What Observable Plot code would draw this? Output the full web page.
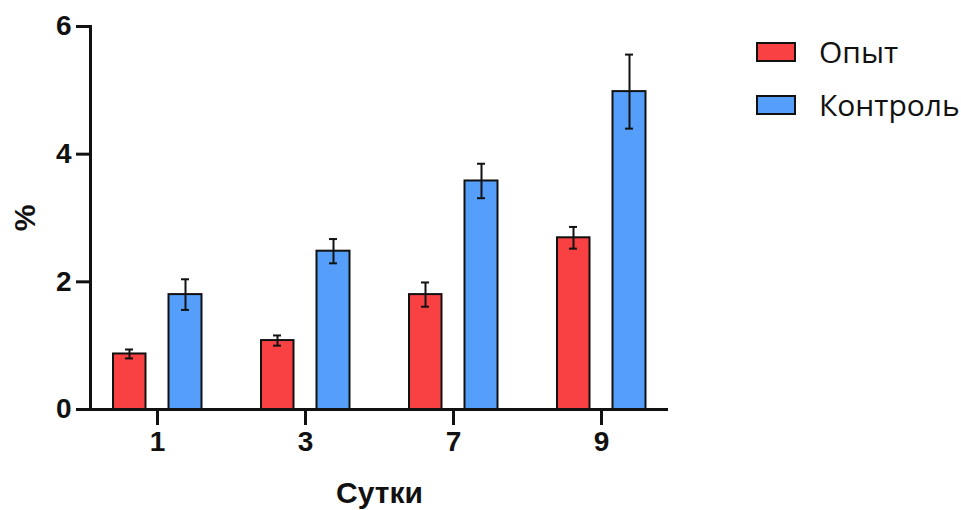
<!DOCTYPE html>
<html>
<head>
<meta charset="utf-8">
<script src="https://cdn.jsdelivr.net/npm/d3@7"></script>
<script src="https://cdn.jsdelivr.net/npm/@observablehq/plot@0.6"></script>
<style>
  body { margin: 0; background: #fff; }
  #wrap { position: relative; width: 961px; height: 510px; }
  #legend { position: absolute; left: 756px; top: 25px; font-family: "Open Sans", sans-serif; font-size: 30px; color: #111; }
  .item { display: flex; align-items: center; height: 53px; }
  .sw { width: 36px; height: 16px; border: 2px solid #111; margin-right: 23px; }
</style>
</head>
<body>
<div id="wrap"><div id="legend"></div></div>
<script>
const days = ["1", "3", "7", "9"];
const seriesNames = ["Опыт", "Контроль"];
const opyt = [0.87, 1.08, 1.80, 2.69];
const opytErr = [0.07, 0.08, 0.19, 0.17];
const control = [1.80, 2.48, 3.58, 4.98];
const controlErr = [0.24, 0.19, 0.27, 0.58];
const colors = ["#F94144", "#559FFA"];
const yTicks = [0, 2, 4, 6];

const opytData = days.map((d, i) => ({day: d, v: opyt[i], lo: opyt[i] - opytErr[i], hi: opyt[i] + opytErr[i]}));
const controlData = days.map((d, i) => ({day: d, v: control[i], lo: control[i] - controlErr[i], hi: control[i] + controlErr[i]}));

const font = "'Liberation Sans', Arial, sans-serif";
const capInset = 55;

function errMarks(data, dx) {
  return [
    Plot.ruleX(data, {x: "day", y1: "lo", y2: "hi", dx, stroke: "#111", strokeWidth: 2}),
    Plot.tickY(data, {x: "day", y: "lo", dx, insetLeft: capInset, insetRight: capInset, stroke: "#111", strokeWidth: 2}),
    Plot.tickY(data, {x: "day", y: "hi", dx, insetLeft: capInset, insetRight: capInset, stroke: "#111", strokeWidth: 2})
  ];
}

const chart = Plot.plot({
  width: 961,
  height: 510,
  marginLeft: 90,
  marginRight: 293,
  marginTop: 26,
  marginBottom: 101,
  style: {fontFamily: font, color: "#111", background: "white"},
  x: {domain: days, paddingInner: 0.2, paddingOuter: 0.04},
  y: {domain: [0, 6]},
  marks: [
    Plot.barY(opytData, {x: "day", y: "v", fill: colors[0], stroke: "#111", strokeWidth: 2, insetLeft: 15, insetRight: 70.5}),
    Plot.barY(controlData, {x: "day", y: "v", fill: colors[1], stroke: "#111", strokeWidth: 2, insetLeft: 70.5, insetRight: 14.5}),
    ...errMarks(opytData, -28),
    ...errMarks(controlData, 28),
    Plot.axisY({ticks: yTicks, tickFormat: "d", tickSize: 14, tickPadding: 5, strokeWidth: 3, fontSize: 28, fontWeight: "bold", label: null}),
    Plot.axisY({ticks: [], label: "%", labelAnchor: "center", labelArrow: false, labelOffset: 77, fontSize: 30, fontWeight: "bold"}),
    Plot.axisX({tickSize: 16, tickPadding: 6, strokeWidth: 3, fontSize: 28, fontWeight: "bold", label: null}),
    Plot.axisX({ticks: [], label: "Сутки", labelAnchor: "center", labelArrow: false, labelOffset: 93, fontSize: 30, fontWeight: "bold"}),
    Plot.frame({anchor: "left", strokeWidth: 3, stroke: "#111"}),
    Plot.ruleY([0], {strokeWidth: 3, stroke: "#111"})
  ]
});
document.getElementById("wrap").prepend(chart);

const legend = document.getElementById("legend");
seriesNames.forEach((name, i) => {
  const item = document.createElement("div");
  item.className = "item";
  const sw = document.createElement("div");
  sw.className = "sw";
  sw.style.background = colors[i];
  const t = document.createElement("span");
  t.textContent = name;
  item.append(sw, t);
  legend.append(item);
});
</script>
</body>
</html>
